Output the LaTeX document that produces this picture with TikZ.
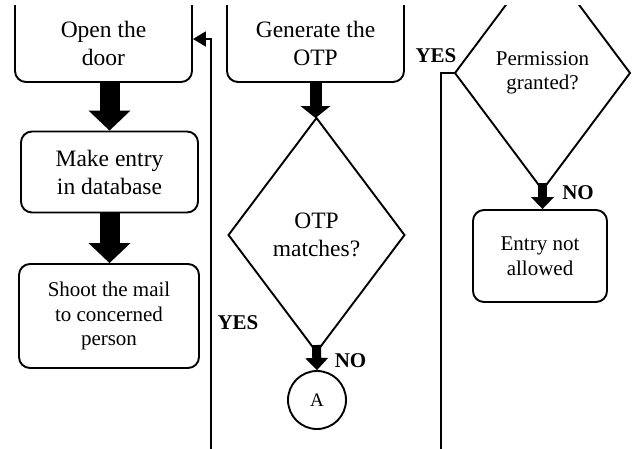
\documentclass[tikz,border=0pt]{standalone}
\usepackage{fontspec}
\setmainfont{Liberation Serif}
\usetikzlibrary{shapes,arrows,arrows.meta,positioning,calc}

\begin{document}
\begin{tikzpicture}[
        x=1pt, y=-1pt,
        bigtext/.style   = {font=\fontsize{23.5}{28}\selectfont},
        smalltext/.style = {font=\fontsize{21}{24.5}\selectfont},
        tag/.style       = {font=\fontsize{21}{24}\selectfont\bfseries, inner sep=0pt},
        box/.style       = {rectangle, draw, rounded corners=11pt, line width=1.9pt,
                            inner sep=0pt, align=center, minimum width=177pt},% process steps
        dec/.style       = {diamond, draw, line width=1.9pt, inner sep=0pt, outer sep=0pt,
                            align=center, smalltext,
                            minimum width=176pt, minimum height=234pt},% decisions
        fatarrow/.style  = {line width=20pt,
                            -{Triangle[width=42pt, length=20pt, line width=0pt]}},% block arrows
        midarrow/.style  = {line width=12pt,
                            -{Triangle[width=30pt, length=12pt, line width=0pt]}},
        slimarrow/.style = {line width=9pt,
                            -{Triangle[width=23pt, length=12pt, line width=0pt]}},
        wire/.style      = {line width=1.9pt},
        ]
    \useasboundingbox (0,0) rectangle (632,448);
    \clip (0,5) rectangle (632,448);
    % boxes cut at the top of the page
    \node[box, minimum height=90pt,
          label={[bigtext, align=center, yshift=-6pt]center:{Open the\\door}}] (open) at (103.5,37) {};
    \node[box, minimum height=90pt,
          label={[bigtext, align=center, yshift=-6pt]center:{Generate the\\OTP}}] (gen) at (315.5,37) {};
    \node[box, bigtext, minimum height=81pt] (entry) at (109.5,172) {Make entry\\in database};
    \node[box, smalltext, minimum width=180pt, minimum height=104pt] (mail) at (109,316)
        {Shoot the mail\\to concerned\\person};
    \node[dec, bigtext] (otp) at (316.5,235) {OTP\\matches?};
    \node[circle, draw, line width=1.9pt, minimum size=58pt, inner sep=0pt,
          font=\fontsize{19}{22}\selectfont] (A) at (317,400) {A};
    \node[dec, minimum width=175pt] (perm) at (542.5,73) {Permission\\granted?};
    \node[box, smalltext, minimum width=134pt, minimum height=92pt] (deny) at (540,256)
        {Entry not\\allowed};
    % free ends of the loops
    \coordinate (yesA) at (211,450);
    \coordinate (yesB) at (441,450);
    % connectors
    \draw[fatarrow] (entry.north |- open.south) -- (entry.north);
    \draw[fatarrow] (entry.south) -- (entry.south |- mail.north);
    \draw[midarrow] (gen.south) -- (gen.south |- otp.north);
    \draw[slimarrow] ([yshift=7pt]otp.south) -- (A.north);
    \draw[slimarrow] ([yshift=7pt]perm.south) -- (perm.south |- deny.north);
    \draw[wire, -{Triangle[width=15pt, length=13pt]}] (yesA) |- ([yshift=-2pt]open.east);
    \draw[wire] (yesB) |- (perm.west);
    % branch labels
    \node[tag] (no1)  at (350.5,361) {NO};
    \node[tag] (no2)  at (578,193)   {NO};
    \node[tag] (yes1) at (238,323)   {YES};
    \node[tag] (yes2) at (436,56)    {YES};
\end{tikzpicture}
\end{document}
